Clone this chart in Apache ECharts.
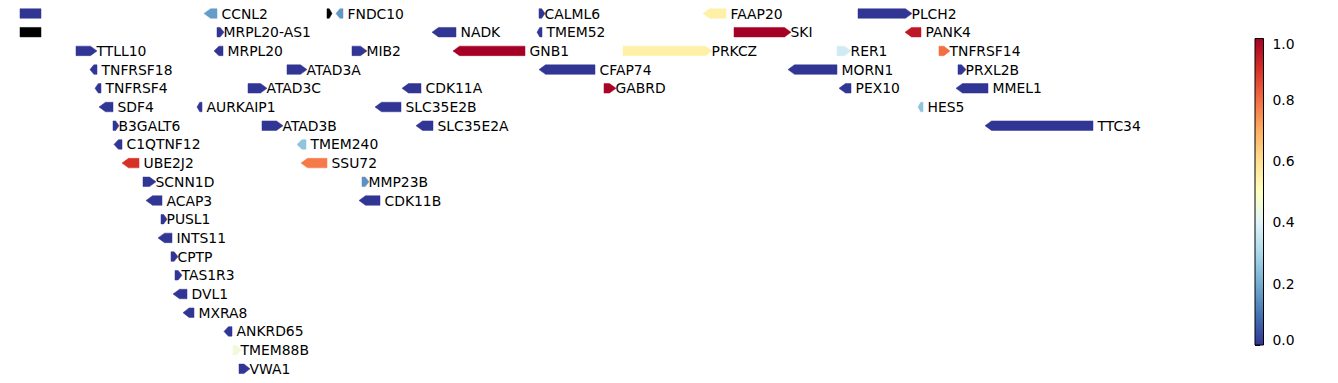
<!DOCTYPE html>
<html><head><meta charset="utf-8">
<script src="https://cdn.jsdelivr.net/npm/echarts@6/dist/echarts.min.js"></script>
<style>html,body{margin:0;padding:0;background:#fff}#c{width:1338px;height:383px}</style>
</head><body><div id="c"></div><script>
// gene track data (positions in track units)
const geneNames  = ['', 'CCNL2', '', 'FNDC10', 'CALML6', 'FAAP20', 'PLCH2',
  '', 'MRPL20-AS1', 'NADK', 'TMEM52', 'SKI', 'PANK4',
  'TTLL10', 'MRPL20', 'MIB2', 'GNB1', 'PRKCZ', 'RER1', 'TNFRSF14',
  'TNFRSF18', 'ATAD3A', 'CFAP74', 'MORN1', 'PRXL2B',
  'TNFRSF4', 'ATAD3C', 'CDK11A', 'GABRD', 'PEX10', 'MMEL1',
  'SDF4', 'AURKAIP1', 'SLC35E2B', 'HES5',
  'B3GALT6', 'ATAD3B', 'SLC35E2A', 'TTC34',
  'C1QTNF12', 'TMEM240',
  'UBE2J2', 'SSU72',
  'SCNN1D', 'MMP23B',
  'ACAP3', 'CDK11B',
  'PUSL1', 'INTS11', 'CPTP', 'TAS1R3', 'DVL1', 'MXRA8', 'ANKRD65', 'TMEM88B', 'VWA1'];
const geneStart  = [20, 204, 327, 336, 539, 703, 858,
  20, 217, 432, 537, 734, 905,
  76, 214, 352, 453, 623, 837, 939,
  90, 287, 539, 788, 958,
  95, 248, 402, 604, 839, 956,
  99, 197, 375, 918,
  113, 262, 416, 985,
  114, 297,
  122, 301,
  143, 362,
  146, 359,
  161, 158, 171, 175, 173, 183, 224, 233, 239];
const geneEnd    = [41, 217, 332, 343, 545, 726, 912,
  41, 224, 456, 542, 791, 921,
  97, 223, 367, 525, 712, 851, 950,
  97, 307, 595, 837, 966,
  101, 267, 421, 616, 851, 988,
  113, 202, 401, 923,
  119, 283, 433, 1093,
  122, 306,
  139, 327,
  156, 369,
  162, 380,
  167, 172, 178, 182, 187, 194, 232, 241, 250];
const geneStrand = [0, -1, 1, -1, 1, -1, 1,
  0, 1, -1, -1, 1, -1,
  1, -1, 1, -1, 1, 1, 1,
  -1, 1, -1, -1, 1,
  -1, 1, -1, 1, -1, -1,
  -1, -1, -1, -1,
  1, 1, -1, -1,
  -1, -1,
  -1, -1,
  1, 1,
  -1, -1,
  1, -1, 1, 1, -1, -1, -1, 1, 1];
const geneRow    = [0, 0, 0, 0, 0, 0, 0,
  1, 1, 1, 1, 1, 1,
  2, 2, 2, 2, 2, 2, 2,
  3, 3, 3, 3, 3,
  4, 4, 4, 4, 4, 4,
  5, 5, 5, 5,
  6, 6, 6, 6,
  7, 7,
  8, 8,
  9, 9,
  10, 10,
  11, 12, 13, 14, 15, 16, 17, 18, 19];
// null = missing value (drawn black)
const geneValue  = [0.0, 0.17, null, 0.16, 0.0, 0.55, 0.0,
  null, 0.0, 0.0, 0.0, 1.0, 0.95,
  0.0, 0.0, 0.0, 1.0, 0.55, 0.37, 0.8,
  0.0, 0.0, 0.0, 0.0, 0.0,
  0.0, 0.0, 0.0, 0.99, 0.0, 0.0,
  0.0, 0.0, 0.0, 0.25,
  0.0, 0.0, 0.0, 0.0,
  0.0, 0.25,
  0.9, 0.78,
  0.0, 0.15,
  0.0, 0.0,
  0.0, 0.0, 0.0, 0.0, 0.0, 0.0, 0.0, 0.45, 0.0];
const colorbarTicks = [0, 0.2, 0.4, 0.6, 0.8, 1.0];
const cmapStops = ['#313695','#4575b4','#74add1','#abd9e9','#e0f3f8','#ffffbf','#fee090','#fdae61','#f46d43','#d73027','#a50026'];

function hex2rgb(h){return [parseInt(h.slice(1,3),16),parseInt(h.slice(3,5),16),parseInt(h.slice(5,7),16)];}
function cmap(v){
  if (v === null || v === undefined) return '#000000';
  v = Math.max(0, Math.min(1, v));
  const n = cmapStops.length - 1;
  const p = v * n; const i = Math.min(Math.floor(p), n - 1); const t = p - i;
  const a = hex2rgb(cmapStops[i]), b = hex2rgb(cmapStops[i+1]);
  return 'rgb(' + a.map((c,k)=>Math.round(c + (b[k]-c)*t)).join(',') + ')';
}

const geneData = geneNames.map((n, i) => [geneStart[i], geneEnd[i], geneRow[i], i]);
const FS = 13.9;
const BAR_H = 9.5;

function renderGene(params, api){
  const idx = api.value(3);
  const p0 = api.coord([api.value(0), api.value(2)]);
  const p1 = api.coord([api.value(1), api.value(2)]);
  const x0 = p0[0], x1 = p1[0], yc = p0[1];
  const top = yc - BAR_H/2, bot = yc + BAR_H/2;
  const w = x1 - x0;
  const h = Math.min(6.5, w * 0.55);
  const s = geneStrand[idx];
  let pts;
  if (s === 1) pts = [[x0,top],[x1-h,top],[x1,yc],[x1-h,bot],[x0,bot]];
  else if (s === -1) pts = [[x0,yc],[x0+h,top],[x1,top],[x1,bot],[x0+h,bot]];
  else pts = [[x0,top],[x1,top],[x1,bot],[x0,bot]];
  const col = cmap(geneValue[idx]);
  const children = [{type:'polygon', shape:{points:pts}, style:{fill:col, stroke:col, lineWidth:0.5}}];
  if (geneNames[idx]) {
    children.push({type:'text', x: x1 + (s === -1 ? 4.5 : -0.5), y: yc,
      style:{text: geneNames[idx], fill:'#000', font: FS + 'px "DejaVu Sans"', textAlign:'left', textVerticalAlign:'middle'}});
  }
  return {type:'group', children};
}

const labelStyle = {fontSize:FS, fontFamily:'DejaVu Sans', color:'#000'};
const chart = echarts.init(document.getElementById('c'), null, {renderer:'svg'});
chart.setOption({
  animation:false,
  backgroundColor:'#fff',
  grid:[{left:0, top:13.5, width:1338, height:355.3},
        {left:1255, top:38.5, width:8.5, height:306.5}],
  xAxis:[{type:'value', gridIndex:0, min:0, max:1338, show:false},
         {type:'value', gridIndex:1, min:0, max:1, show:false}],
  yAxis:[{type:'value', gridIndex:0, min:0, max:19, inverse:true, show:false},
         {type:'value', gridIndex:1, min:0, max:1, interval:0.2, position:'right',
          axisLine:{show:true, lineStyle:{color:'#000', width:1}},
          axisTick:{show:true, inside:false, length:5, lineStyle:{color:'#000', width:1}},
          axisLabel:{show:true, margin:9, color:'#000', fontSize:FS, fontFamily:'DejaVu Sans',
            formatter: v => {
              if (!colorbarTicks.some(t=>Math.abs(t-v)<1e-9)) return '';
              const s = v.toFixed(1);
              if (Math.abs(v-1) < 1e-9) return '{mx|' + s + '}';
              if (Math.abs(v) < 1e-9) return '{mn|' + s + '}';
              return s;
            },
            rich:{mx:Object.assign({padding:[11,0,0,0]}, labelStyle),
                  mn:Object.assign({padding:[0,0,11,0]}, labelStyle)}},
          splitLine:{show:false}}],
  series:[
    {type:'custom', xAxisIndex:0, yAxisIndex:0, renderItem:renderGene, data:geneData,
     encode:{x:[0,1], y:2}, clip:false, silent:true},
    {type:'custom', xAxisIndex:1, yAxisIndex:1, clip:false, silent:true, data:[[0,0,1,1]],
     renderItem:function(params, api){
       const a = api.coord([0,0]), b = api.coord([1,1]);
       const stops = cmapStops.map((c,i)=>({offset: i/(cmapStops.length-1), color:c}));
       return {type:'rect', shape:{x:a[0], y:b[1], width:b[0]-a[0], height:a[1]-b[1]},
         style:{fill:new echarts.graphic.LinearGradient(0,1,0,0, stops), stroke:'#000', lineWidth:1}};
     }}
  ]
});
</script></body></html>
